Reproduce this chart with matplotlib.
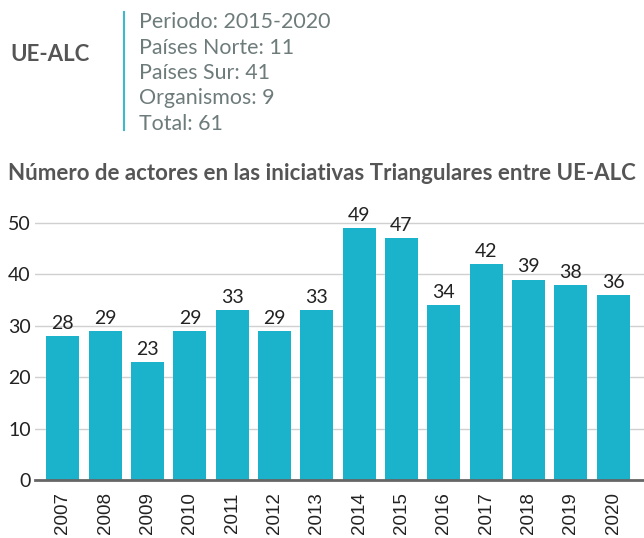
import matplotlib.pyplot as plt
import numpy as np

years = ["2007", "2008", "2009", "2010", "2011", "2012", "2013",
         "2014", "2015", "2016", "2017", "2018", "2019", "2020"]
actores = [28, 29, 23, 29, 33, 29, 33, 49, 47, 34, 42, 39, 38, 36]

header_title = "UE-ALC"
header_lines = ["Periodo: 2015-2020", "Países Norte: 11", "Países Sur: 41",
                "Organismos: 9", "Total: 61"]
chart_title = "Número de actores en las iniciativas Triangulares entre UE-ALC"

bar_color = "#1bb3cb"

fig = plt.figure(figsize=(6.44, 5.38), dpi=100)

# header
fig.text(10/644, 1 - 55/538, header_title, fontfamily="Lato", fontweight="bold",
         fontsize=16, color="#555555", va="center", ha="left")
fig.add_artist(plt.Line2D([124/644, 124/644], [1 - 12/538, 1 - 130/538],
                          color="#3fb8cc", lw=1.5))
for i, line in enumerate(header_lines):
    fig.text(139/644, 1 - (22 + i*25.5)/538, line, fontfamily="Lato",
             fontsize=15.4, color="#6e7b7b", va="center", ha="left")

fig.text(8/644, 1 - 173/538, chart_title, fontfamily="Lato", fontweight="bold",
         fontsize=16, color="#555555", va="center", ha="left")

ax = fig.add_axes([35/644, 58/538, 609/644, 275/538])
x = np.arange(len(years))
ax.bar(x, actores, width=0.78, color=bar_color, zorder=2)
for xi, v in zip(x, actores):
    ax.annotate(str(v), (xi, v), xytext=(0, 3), textcoords="offset points",
                ha="center", va="bottom", fontfamily="Lato",
                fontsize=14, color="#222222")

ax.set_xlim(-0.66, 13.73)
ax.set_ylim(0, 53.5)
ax.set_yticks([0, 10, 20, 30, 40, 50])
ax.set_xticks(x)
ax.set_xticklabels(years, rotation=90, fontfamily="Liberation Sans", fontsize=13.5)
for lab in ax.get_yticklabels():
    lab.set_fontfamily("Lato")
    lab.set_fontsize(14)
ax.tick_params(axis="y", length=0, pad=3, colors="#222222")
ax.tick_params(axis="x", length=0, pad=9, colors="#222222")
ax.grid(axis="y", color="#d0d0d0", lw=1, zorder=0)
for s in ["top", "right", "left"]:
    ax.spines[s].set_visible(False)
ax.spines["bottom"].set_color("#666666")
ax.spines["bottom"].set_linewidth(2)
ax.spines["bottom"].set_zorder(3)

fig.savefig("out.png", dpi=100)
